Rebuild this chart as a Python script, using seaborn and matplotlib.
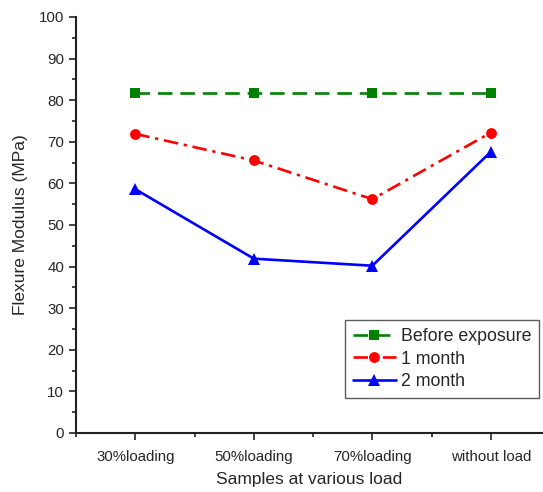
import matplotlib
matplotlib.use("Agg")
import matplotlib.pyplot as plt
from matplotlib.ticker import MultipleLocator
import seaborn as sns
import pandas as pd

samples = ["30%loading", "50%loading", "70%loading", "without load"]
before_exposure = [81.7, 81.7, 81.7, 81.7]
one_month = [71.9, 65.5, 56.2, 72.2]
two_month = [58.6, 41.9, 40.2, 67.6]
series_names = ["Before exposure", "1 month", "2 month"]

rows = []
for name, vals in zip(series_names, [before_exposure, one_month, two_month]):
    for i, v in enumerate(vals):
        rows.append({"pos": i, "value": v, "series": name})
df = pd.DataFrame(rows)

sns.set_theme(style="ticks")
plt.rcParams["font.family"] = ["Liberation Sans", "DejaVu Sans"]

fig = plt.figure(figsize=(5.43, 4.92), dpi=100)
ax = fig.add_axes([0.14, 0.12, 0.86, 0.8455])

palette = {"Before exposure": "#008000", "1 month": "#ff0000", "2 month": "#0000ff"}
markers = {"Before exposure": "s", "1 month": "o", "2 month": "^"}
dashes = {"Before exposure": (5.5, 3), "1 month": (5.5, 2.2, 1.2, 2.2), "2 month": ""}
marker_sizes = {"s": 6.6, "o": 7.8, "^": 8.6}

sns.lineplot(data=df, x="pos", y="value", hue="series", style="series",
             palette=palette, markers=markers, dashes=dashes,
             linewidth=1.9, markersize=7, markeredgewidth=0, ax=ax)

for ln in ax.lines:
    m = ln.get_marker()
    if m in marker_sizes:
        ln.set_markersize(marker_sizes[m])

ax.set_xlim(-0.5, 3.44)
ax.set_ylim(0, 100)
ax.set_xticks(range(len(samples)))
ax.set_xticklabels(samples)
ax.xaxis.set_minor_locator(MultipleLocator(0.5))
ax.yaxis.set_major_locator(MultipleLocator(10))
ax.yaxis.set_minor_locator(MultipleLocator(5))
ax.tick_params(axis="both", which="major", length=5, width=1.2, labelsize=10.8,
               direction="out", color="#222222")
ax.tick_params(axis="both", which="minor", length=3, width=1.2, direction="out",
               color="#222222")
ax.tick_params(axis="x", pad=7)
for s in ["top", "right"]:
    ax.spines[s].set_visible(False)
for s in ["left", "bottom"]:
    ax.spines[s].set_linewidth(1.5)
    ax.spines[s].set_color("#222222")

ax.set_xlabel("Samples at various load", fontsize=12.5, labelpad=6)
ax.set_ylabel("Flexure Modulus (MPa)", fontsize=12.5, labelpad=8)

leg = ax.legend(title=None, loc="lower right", bbox_to_anchor=(1.0, 0.075),
                fontsize=12.8, frameon=True, fancybox=False, borderpad=0.45,
                labelspacing=0.32, handlelength=2.4, handletextpad=0.3,
                borderaxespad=0.2)
leg.get_frame().set_edgecolor("#333333")
leg.get_frame().set_linewidth(1.0)
for h in leg.legend_handles:
    m = h.get_marker()
    if m in marker_sizes:
        h.set_markersize(marker_sizes[m])

fig.savefig("out.png", dpi=100)
